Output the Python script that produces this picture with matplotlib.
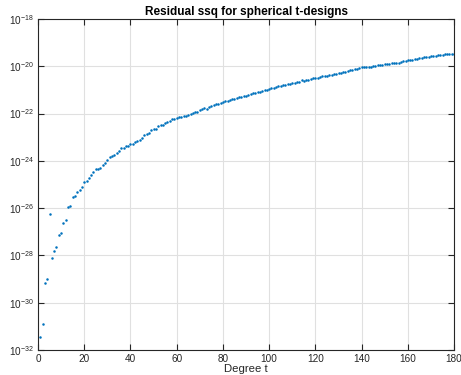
import matplotlib
matplotlib.use("Agg")
import matplotlib.pyplot as plt
import numpy as np

plt.rcParams['font.family'] = ['Liberation Sans', 'DejaVu Sans']

# degree t = 1..180, log10 of residual sum of squares
degree = np.arange(1, 181)
log_ssq = [
    -31.46, -30.90, -29.17, -29.01, -26.26, -28.11, -27.80, -27.64, -27.14, -27.06,
    -26.64, -26.51, -25.94, -25.90, -25.53, -25.49, -25.32, -25.23, -25.09, -24.88,
    -24.85, -24.74, -24.60, -24.48, -24.36, -24.36, -24.30, -24.19, -24.08, -23.96,
    -23.85, -23.78, -23.76, -23.65, -23.59, -23.47, -23.46, -23.37, -23.36, -23.30,
    -23.29, -23.20, -23.17, -23.12, -23.02, -22.92, -22.85, -22.83, -22.69, -22.66,
    -22.64, -22.52, -22.50, -22.47, -22.41, -22.36, -22.30, -22.24, -22.22, -22.19,
    -22.16, -22.14, -22.11, -22.09, -22.05, -22.00, -21.97, -21.95, -21.92, -21.85,
    -21.81, -21.76, -21.79, -21.73, -21.69, -21.65, -21.61, -21.58, -21.54, -21.50,
    -21.47, -21.45, -21.42, -21.40, -21.37, -21.33, -21.30, -21.30, -21.27, -21.24,
    -21.21, -21.17, -21.14, -21.13, -21.09, -21.07, -21.03, -21.01, -20.99, -20.95,
    -20.93, -20.90, -20.87, -20.85, -20.82, -20.80, -20.79, -20.76, -20.75, -20.72,
    -20.69, -20.68, -20.66, -20.59, -20.61, -20.58, -20.57, -20.54, -20.49, -20.49,
    -20.48, -20.45, -20.42, -20.41, -20.40, -20.38, -20.35, -20.34, -20.31, -20.29,
    -20.27, -20.25, -20.23, -20.20, -20.17, -20.14, -20.11, -20.10, -20.07, -20.04,
    -20.04, -20.03, -20.03, -20.02, -20.00, -19.99, -19.96, -19.94, -19.93, -19.90,
    -19.89, -19.89, -19.88, -19.88, -19.87, -19.85, -19.82, -19.79, -19.76, -19.75,
    -19.73, -19.72, -19.69, -19.68, -19.66, -19.65, -19.62, -19.61, -19.59, -19.58,
    -19.56, -19.55, -19.53, -19.52, -19.51, -19.49, -19.48, -19.48, -19.47, -19.47,
]
ssq = 10.0 ** np.array(log_ssq)

xticks = list(range(0, 181, 20))
yticks = [10.0 ** e for e in range(-32, -17, 2)]

edge = '#262626'

fig = plt.figure(figsize=(4.61, 3.75), dpi=100)
ax = fig.add_axes([0.0824, 0.0667, 0.9026, 0.8826])

ax.plot(degree, ssq, '.', color='#0072BD', markersize=1.6)

ax.set_yscale('log')
ax.set_xlim(0, 180)
ax.set_ylim(1e-32, 1e-18)
ax.set_xticks(xticks)
ax.set_yticks(yticks)
ax.yaxis.set_minor_locator(matplotlib.ticker.NullLocator())

ax.grid(True, color='#e0e0e0', linewidth=0.8)
ax.set_axisbelow(True)
for s in ax.spines.values():
    s.set_color(edge)
    s.set_linewidth(0.8)
ax.tick_params(direction='in', top=True, right=True, length=4, width=0.8,
               colors=edge, labelsize=7.2, pad=3)

ax.set_title('Residual ssq for spherical t-designs', fontsize=8.5,
             fontweight='bold', pad=3)
ax.set_xlabel('Degree t', fontsize=8.2, color=edge, labelpad=0)

fig.savefig('out.png', dpi=100)
